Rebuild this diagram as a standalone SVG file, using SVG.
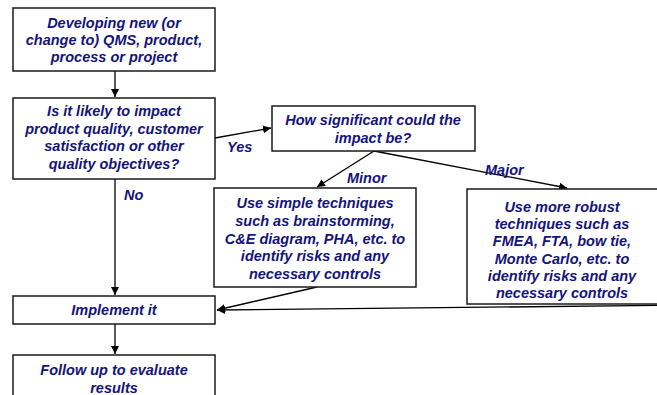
<svg xmlns="http://www.w3.org/2000/svg" width="657" height="395" viewBox="0 0 657 395">
<style>
.box{fill:#fff;stroke:#1a1a1a;stroke-width:1.5}
.t{font-family:"Liberation Sans",Arial,sans-serif;font-size:14.5px;font-weight:bold;font-style:italic;fill:#14147a;text-anchor:middle}
.l{font-family:"Liberation Sans",Arial,sans-serif;font-size:14.5px;font-weight:bold;font-style:italic;fill:#14147a}
.c{fill:none;stroke:#000;stroke-width:1.3}
</style>
<defs>
<marker id="ah" viewBox="0 0 10 10" refX="10" refY="5" markerWidth="8" markerHeight="8" markerUnits="userSpaceOnUse" orient="auto">
<path d="M0,0 L10,5 L0,10 z" fill="#000"/>
</marker>
</defs>
<rect width="657" height="395" fill="#fff"/>
<g id="connectors">
<line class="c" x1="115" y1="71" x2="115" y2="97" marker-end="url(#ah)"/>
<line class="c" x1="215" y1="138" x2="271" y2="128" marker-end="url(#ah)"/>
<line class="c" x1="115" y1="179" x2="115" y2="295" marker-end="url(#ah)"/>
<line class="c" x1="374" y1="151" x2="317" y2="187" marker-end="url(#ah)"/>
<line class="c" x1="374" y1="151" x2="567" y2="188" marker-end="url(#ah)"/>
<line class="c" x1="317" y1="287" x2="217" y2="310" marker-end="url(#ah)"/>
<line class="c" x1="700" y1="305" x2="217" y2="310" marker-end="url(#ah)"/>
<line class="c" x1="115" y1="324" x2="115" y2="354" marker-end="url(#ah)"/>
</g>
<g id="labels">
<text class="l" x="227" y="152">Yes</text>
<text class="l" x="124" y="200">No</text>
<text class="l" x="347" y="183">Minor</text>
<text class="l" x="485" y="175">Major</text>
</g>
<g id="start">
<rect class="box" x="13" y="8" width="202" height="63"/>
<text class="t" x="114" y="28">Developing new (or</text>
<text class="t" x="114" y="45">change to) QMS, product,</text>
<text class="t" x="114" y="62">process or project</text>
</g>
<g id="likely">
<rect class="box" x="13" y="98" width="202" height="81"/>
<text class="t" x="114" y="116">Is it likely to impact</text>
<text class="t" x="114" y="133.5">product quality, customer</text>
<text class="t" x="114" y="151">satisfaction or other</text>
<text class="t" x="114" y="168.5">quality objectives?</text>
</g>
<g id="significant">
<rect class="box" x="272" y="106" width="203" height="45"/>
<text class="t" x="373" y="125">How significant could the</text>
<text class="t" x="373" y="143">impact be?</text>
</g>
<g id="simple">
<rect class="box" x="214" y="188" width="202" height="99"/>
<text class="t" x="315" y="208">Use simple techniques</text>
<text class="t" x="315" y="225.5">such as brainstorming,</text>
<text class="t" x="315" y="243.5">C&amp;E diagram, PHA, etc. to</text>
<text class="t" x="315" y="261">identify risks and any</text>
<text class="t" x="315" y="278.5">necessary controls</text>
</g>
<g id="robust">
<rect class="box" x="467" y="189" width="210" height="115"/>
<text class="t" x="562" y="212">Use more robust</text>
<text class="t" x="562" y="229">techniques such as</text>
<text class="t" x="562" y="246">FMEA, FTA, bow tie,</text>
<text class="t" x="562" y="263.5">Monte Carlo, etc. to</text>
<text class="t" x="562" y="280.5">identify risks and any</text>
<text class="t" x="562" y="297.5">necessary controls</text>
</g>
<g id="implement">
<rect class="box" x="13" y="296" width="202" height="28"/>
<text class="t" x="114" y="315">Implement it</text>
</g>
<g id="followup">
<rect class="box" x="13" y="355" width="202" height="50"/>
<text class="t" x="114" y="375">Follow up to evaluate</text>
<text class="t" x="114" y="393">results</text>
</g>
</svg>
